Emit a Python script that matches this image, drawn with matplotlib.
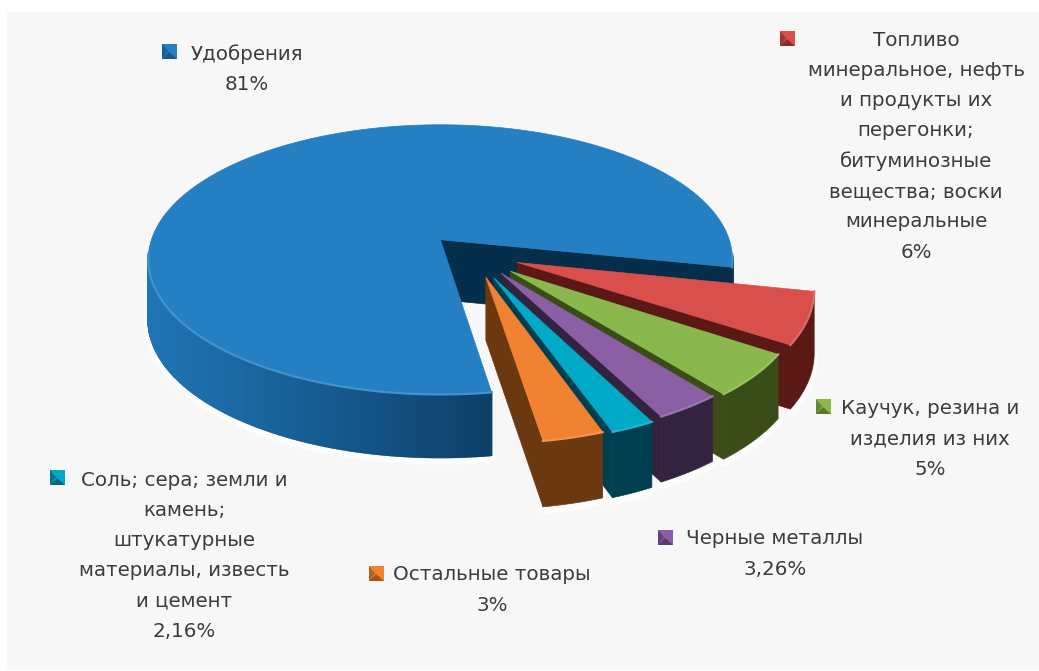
import matplotlib
matplotlib.use("Agg")
import matplotlib.pyplot as plt
from matplotlib.patches import Polygon, Rectangle
import numpy as np

plt.rcParams['font.family'] = ['DejaVu Sans']

# data, largest slice first, going clockwise
categories = ["Удобрения", "Топливо минеральное", "Каучук", "Черные металлы", "Соль", "Остальные товары"]
values = [81, 6, 5, 3.26, 2.16, 3]
label_lines = [
    ["Удобрения", "81%"],
    ["Топливо", "минеральное, нефть", "и продукты их", "перегонки;", "битуминозные", "вещества; воски", "минеральные", "6%"],
    ["Каучук, резина и", "изделия из них", "5%"],
    ["Черные металлы", "3,26%"],
    ["Соль; сера; земли и", "камень;", "штукатурные", "материалы, известь", "и цемент", "2,16%"],
    ["Остальные товары", "3%"],
]
top_colors = ["#2480c2", "#d94f4c", "#8ab84c", "#8a5fa3", "#00a9c6", "#f18231"]
side_colors = ["#0d3f68", "#5a1915", "#3a4d18", "#33233f", "#003f4f", "#6b3810"]
wall_colors = ["#052e4b", "#5a1915", "#3a4d18", "#33233f", "#003f4f", "#6b3810"]
explode = [0.10, 0.215, 0.215, 0.215, 0.215, 0.215]
# the front slices look a bit narrower than the big one
x_scale = [1, 0.985, 0.96, 0.955, 0.95, 0.945]
y_scale = [1, 1, 0.99, 0.98, 0.98, 0.98]
tip_shift = [(0, 0), (-2, 2), (2, 2), (5, -1), (7, 1), (9, -1)]
depth = [60, 62, 62, 62, 62, 62]

# where the labels go: marker x, marker y, text centre x, first line y
label_pos = [
    (162, 44, 247, 54),
    (780, 31, 916, 40),
    (816, 399, 930, 409),
    (658, 530, 775, 539),
    (50, 470, 184, 480),
    (369, 566, 492, 575),
]

# perspective projection of the pie plane, origin at the big slice's tip
X0, Y0 = 440, 240
A, B, K = 289, 132, 0.148
CENTER = (0.07, -0.07)
START = -81.3


def project(u, v, shift=(0, 0), drop=0):
    w = 1 + K * v
    x = X0 + A * u / w + shift[0]
    y = Y0 - B * v / w + shift[1] + drop / w ** 0.3
    return np.column_stack([x, y])


def mix(c1, c2, t):
    return tuple((1 - t) * np.array(matplotlib.colors.to_rgb(c1)) + t * np.array(matplotlib.colors.to_rgb(c2)))


fig = plt.figure(figsize=(10.39, 6.71), dpi=100, facecolor="white")
ax = fig.add_axes([0, 0, 1, 1])
ax.set_xlim(0, 1039)
ax.set_ylim(671, 0)
ax.axis("off")
ax.add_patch(Rectangle((7, 12), 1032, 658, fc="#f7f7f7", ec="none", zorder=0))

# angles go clockwise from the start, blue first
sweep = np.array(values) / sum(values) * 360
ends = START - np.cumsum(sweep)
starts = ends + sweep

z = 2
# blue first, then red to orange so that each covers the wall of the one before
for i in range(len(values)):
    mid = np.radians((starts[i] + ends[i]) / 2)
    cu = CENTER[0] + explode[i] * np.cos(mid)
    cv = CENTER[1] + explode[i] * np.sin(mid)
    t = np.radians(np.linspace(starts[i], ends[i], max(int(sweep[i] * 2), 20)))
    u = cu + x_scale[i] * np.cos(t)
    v = cv + y_scale[i] * np.sin(t)
    s = tip_shift[i]
    near = np.sin(t) < -0.1

    top = project(u, v, s)
    low = project(u, v, s, depth[i])
    tip = project(np.array([cu]), np.array([cv]), s)
    tip_low = project(np.array([cu]), np.array([cv]), s, depth[i])

    # soft white glow under the lower edge
    glow_y = np.where(near, low[:, 1] + 3, np.nan)
    ax.plot(low[:, 0], glow_y, color="white", lw=6, alpha=0.7, zorder=1, solid_capstyle="round")

    # outer side, only the part facing us
    if i == 0:
        for j in range(len(t) - 1):
            if not (near[j] and near[j + 1]):
                continue
            strip = np.vstack([top[j], top[j + 1], low[j + 1], low[j]])
            f = np.clip((strip[:, 0].mean() - 150) / 340, 0, 1)
            c = mix("#1f74b3", side_colors[0], f ** 1.1)
            ax.add_patch(Polygon(strip, fc=c, ec=c, lw=1.2, zorder=z))
    else:
        side = np.vstack([top, low[::-1]])
        ax.add_patch(Polygon(side, fc=side_colors[i], ec=side_colors[i], lw=0.5, zorder=z))
    z += 1

    # wall of the cut on the clockwise end
    wall = np.vstack([tip, top[-1], low[-1], tip_low])
    ax.add_patch(Polygon(wall, fc=wall_colors[i], ec=wall_colors[i], lw=0.5, zorder=z))
    z += 1

    # top face and the light rim on the near side
    face = np.vstack([tip, top])
    ax.add_patch(Polygon(face, fc=top_colors[i], ec=top_colors[i], lw=0.5, zorder=z, joinstyle="round"))
    rim_y = np.where(near, top[:, 1], np.nan)
    ax.plot(top[:, 0], rim_y, color=mix(top_colors[i], "white", 0.14), lw=1.6, zorder=z + 1)
    z += 2

# labels
for i in range(len(values)):
    mx, my, tx, ty = label_pos[i]
    ax.add_patch(Rectangle((mx, my), 15, 15, fc=top_colors[i], ec="none", zorder=z))
    dark = side_colors[i]
    ax.add_patch(Polygon([(mx, my), (mx + 6, my + 7), (mx, my + 15)], fc=dark, ec="none", alpha=0.45, zorder=z + 1))
    ax.add_patch(Polygon([(mx + 15, my + 15), (mx + 7, my + 8), (mx, my + 15)], fc=dark, ec="none", alpha=0.6, zorder=z + 1))
    for n, line in enumerate(label_lines[i]):
        ax.text(tx, ty + n * 30.3, line, ha="center", va="center", fontsize=14.3, color="#3c3c3c", zorder=z)

fig.savefig("out.png", dpi=100)
